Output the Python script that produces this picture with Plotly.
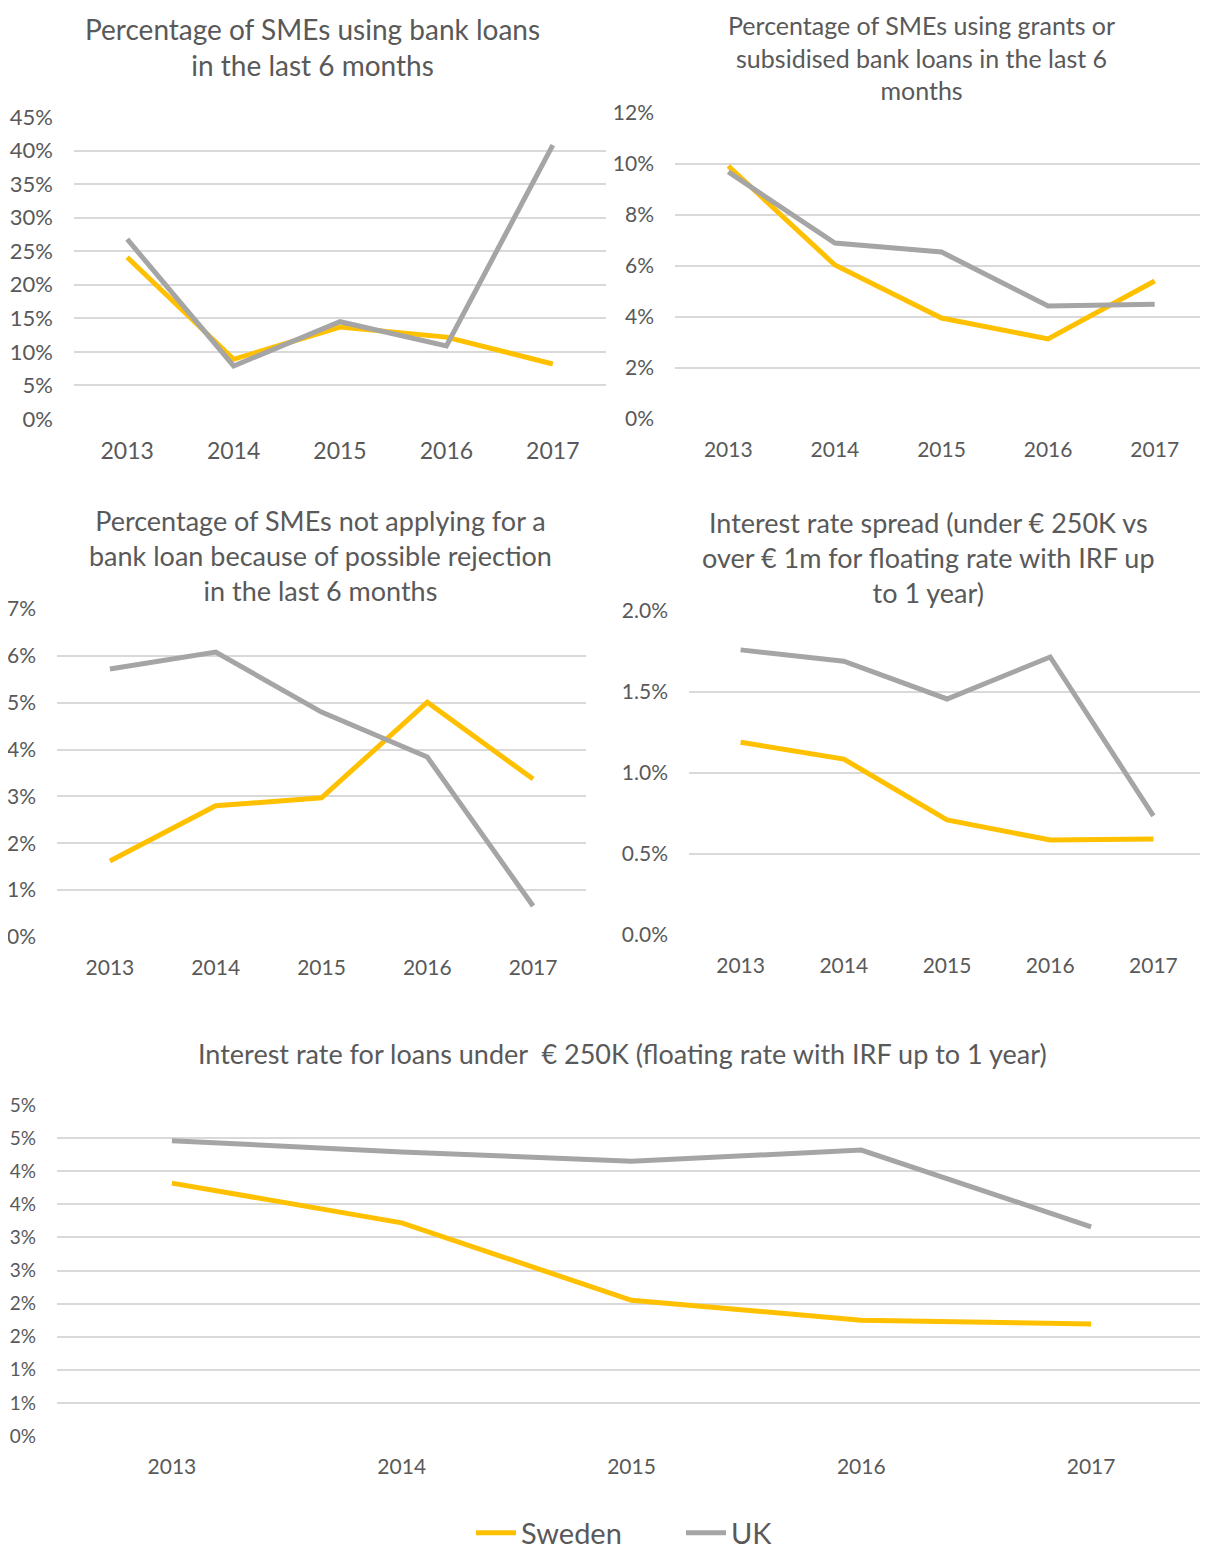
import plotly.graph_objects as go

YEARS = ["2013", "2014", "2015", "2016", "2017"]

# panel 1: SMEs using bank loans
loans_sweden = [0.241, 0.089, 0.137, 0.122, 0.082]
loans_uk = [0.268, 0.079, 0.145, 0.109, 0.408]

# panel 2: grants or subsidised bank loans
grants_sweden = [0.0992, 0.0604, 0.0396, 0.0314, 0.0541]
grants_uk = [0.0969, 0.0690, 0.0655, 0.0443, 0.0450]

# panel 3: not applying because of possible rejection
reject_sweden = [0.0162, 0.0280, 0.0297, 0.0501, 0.0337]
reject_uk = [0.0572, 0.0608, 0.0480, 0.0384, 0.0066]

# panel 4: interest rate spread
spread_sweden = [0.0119, 0.01086, 0.0071, 0.00586, 0.00593]
spread_uk = [0.0176, 0.0169, 0.01457, 0.01716, 0.00735]

# panel 5: interest rate for loans under 250K
rate_sweden = [0.0382, 0.0322, 0.0205, 0.0175, 0.0169]
rate_uk = [0.0446, 0.0429, 0.0415, 0.0432, 0.0316]
rate_ticks = [0, 0.005, 0.01, 0.015, 0.02, 0.025, 0.03, 0.035, 0.04, 0.045, 0.05]
rate_ticktext = ["0%", "1%", "1%", "2%", "2%", "3%", "3%", "4%", "4%", "5%", "5%"]

SWEDEN = "#FFC000"
UK = "#A5A5A5"
GRID = "#D9D9D9"
TEXT = "#595959"
FONT = "Lato"

# page body has an 8px margin, so the figure is a bit smaller and shifted
PAD = 8
W, H = 1208 - PAD, 1562 - 2 * PAD


def py(px):
    return 1 - (px - PAD) / H


def px_x(px):
    return (px - PAD) / W


# (x0, x1, ytop, ybottom) in screen pixels
panels = [
    (74, 606, 117, 419),
    (675, 1208, 113, 419),
    (57, 586, 609, 937),
    (689, 1205, 611, 935),
    (57, 1206, 1105, 1436),
]

series = [
    (loans_sweden, loans_uk),
    (grants_sweden, grants_uk),
    (reject_sweden, reject_uk),
    (spread_sweden, spread_uk),
    (rate_sweden, rate_uk),
]

fig = go.Figure()
for i, (sw, uk) in enumerate(series):
    suffix = "" if i == 0 else str(i + 1)
    fig.add_trace(go.Scatter(x=YEARS, y=sw, mode="lines", name="Sweden",
                             line=dict(color=SWEDEN, width=5), showlegend=(i == 0),
                             xaxis="x" + suffix, yaxis="y" + suffix))
    fig.add_trace(go.Scatter(x=YEARS, y=uk, mode="lines", name="UK",
                             line=dict(color=UK, width=5), showlegend=(i == 0),
                             xaxis="x" + suffix, yaxis="y" + suffix))

yaxes = [
    dict(range=[0, 0.45], dtick=0.05, tickformat=".0%"),
    dict(range=[0, 0.12], dtick=0.02, tickformat=".0%"),
    dict(range=[0, 0.07], dtick=0.01, tickformat=".0%"),
    dict(range=[0, 0.02], dtick=0.005, tickformat=".1%"),
    dict(range=[0, 0.05], tickvals=rate_ticks, ticktext=rate_ticktext),
]
ytick_sizes = [22, 21, 21, 21, 19]
xtick_sizes = [23, 21, 21, 21, 21]

layout = {}
for i, (x0, x1, yt, yb) in enumerate(panels):
    suffix = "" if i == 0 else str(i + 1)
    layout["xaxis" + suffix] = dict(
        domain=[px_x(x0), min(1, px_x(x1))], anchor="y" + suffix, type="category",
        range=[-0.5, 4.5], showgrid=False, zeroline=False, showline=False,
        ticks="", tickfont=dict(size=xtick_sizes[i], color=TEXT, family=FONT),
        ticklabelstandoff=16, fixedrange=True,
    )
    ya = dict(
        domain=[py(yb), py(yt)], anchor="x" + suffix,
        showgrid=True, gridcolor=GRID, gridwidth=2, zeroline=False, showline=False,
        ticks="", tickfont=dict(size=ytick_sizes[i], color=TEXT, family=FONT),
        ticklabelstandoff=20, fixedrange=True,
    )
    ya.update(yaxes[i])
    layout["yaxis" + suffix] = ya

titles = [
    ("Percentage of SMEs using bank loans<br>in the last 6 months", 312, 47, 28),
    ("Percentage of SMEs using grants or<br>subsidised bank loans in the last 6<br>months", 921, 58, 25),
    ("Percentage of SMEs not applying for a<br>bank loan because of possible rejection<br>in the last 6 months", 320, 555, 27),
    ("Interest rate spread (under € 250K vs<br>over € 1m for floating rate with IRF up<br>to 1 year)", 928, 557, 27),
    ("Interest rate for loans under  € 250K (floating rate with IRF up to 1 year)", 622, 1053, 27),
]
annotations = [
    dict(text=t, x=px_x(cx), y=py(cy), xref="paper", yref="paper",
         xanchor="center", yanchor="middle", showarrow=False,
         font=dict(size=s, color=TEXT, family=FONT))
    for t, cx, cy, s in titles
]

fig.update_layout(
    width=W, height=H,
    margin=dict(l=0, r=0, t=0, b=0, autoexpand=False),
    paper_bgcolor="white", plot_bgcolor="white",
    annotations=annotations,
    legend=dict(orientation="h", x=px_x(471), xanchor="left", y=py(1533), yanchor="middle",
                font=dict(size=29, color=TEXT, family=FONT), itemwidth=40,
                entrywidth=155, entrywidthmode="pixels"),
    showlegend=True,
    **layout,
)

fig.write_html("out.html")
